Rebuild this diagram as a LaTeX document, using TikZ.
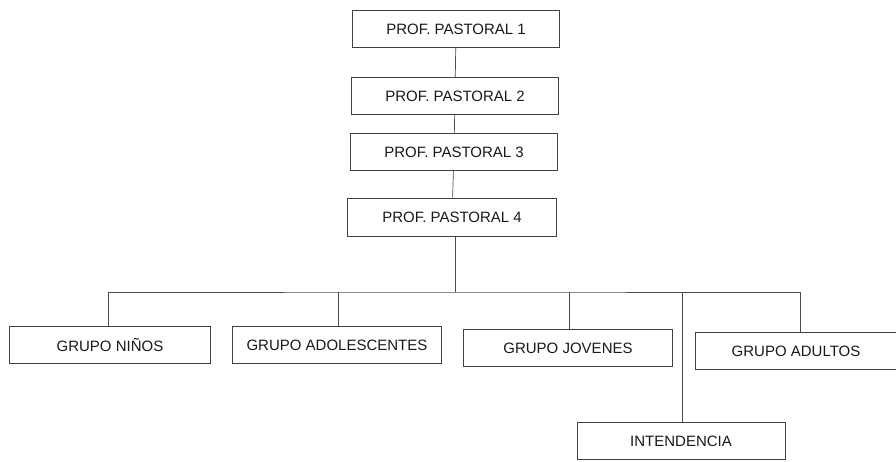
\documentclass[tikz,border=0pt]{standalone}
\usepackage{fontspec}
\setmainfont{Liberation Sans}
\begin{document}
\begin{tikzpicture}[x=1pt,y=-1pt,
  box/.style={draw=black!75,line width=0.8pt,rectangle,minimum height=37pt,inner sep=0pt,
    font=\fontsize{15}{18}\selectfont,text=black!90,anchor=center},
  conn/.style={draw=black!70,line width=0.7pt}]
\useasboundingbox (0,0) rectangle (896,461);
\node[box,minimum width=207pt] (p1) at (456,29) {PROF. PASTORAL 1};
\node[box,minimum width=207pt] (p2) at (455,96) {PROF. PASTORAL 2};
\node[box,minimum width=207pt] (p3) at (454,152) {PROF. PASTORAL 3};
\node[box,minimum width=209pt,minimum height=38pt] (p4) at (452,217) {PROF. PASTORAL 4};
\node[box,minimum width=201pt] (g1) at (110,345) {GRUPO NIÑOS};
\node[box,minimum width=209pt] (g2) at (337,345) {GRUPO ADOLESCENTES};
\node[box,minimum width=209pt] (g3) at (568,348) {GRUPO JOVENES};
\node[box,minimum width=201pt] (g4) at (796,351) {GRUPO ADULTOS};
\node[box,minimum width=208pt] (int) at (681,441) {INTENDENCIA};
\coordinate (bus) at (455,292);
\draw[conn] (p1) -- (p2);
\draw[conn] (p2) -- (p3);
\draw[conn] (p3) -- (p4);
\draw[conn] (p4.south -| bus) -- (bus);
\draw[conn] (g1.north -| 108,0) |- (bus) -| (g4.north -| 800,0);
\draw[conn] (338,292) -- (g2.north -| 338,0);
\draw[conn] (569,292) -- (g3.north -| 569,0);
\draw[conn] (682,292) -- (int.north -| 682,0);
\end{tikzpicture}
\end{document}
